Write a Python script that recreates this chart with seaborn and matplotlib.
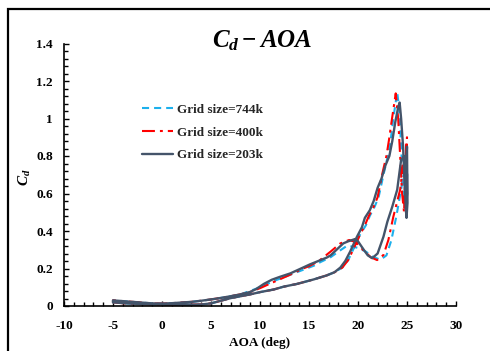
import matplotlib
matplotlib.use("Agg")
import matplotlib.pyplot as plt
from matplotlib.patches import Rectangle
from matplotlib.ticker import MultipleLocator, FuncFormatter
import seaborn as sns
import pandas as pd

# Drag coefficient loops over one pitching cycle, in time order
aoa_203k = [-5, -4, -2, 0, 2, 4, 5, 6, 7, 8, 9, 10, 11.4, 12.4, 13.8, 15.5, 16.8, 17.6,
            18.2, 18.7, 19.2, 19.9, 20.4, 20.7, 21.2, 21.6, 22.0, 22.4, 22.8, 23.2, 23.5,
            23.8, 24.1, 24.25, 24.4, 24.6, 24.75, 24.9, 25.0, 24.95, 25.0, 25.05, 24.95,
            25.0, 24.8, 24.4, 24.0, 23.5, 23.0, 22.6, 22.0, 21.45, 21.0, 20.6, 20.0, 19.7,
            19.0, 18.5, 17.2, 16.8, 15.1, 13.1, 12.0, 11.2, 10.4, 9.6, 9.0, 8.0, 7.0, 6.0,
            5.0, 4.0, 3.0, 1.0, 0.0, -1.0, -2.0, -3.0, -4.0, -5.0, -5.0]
cd_203k = [0.02, 0.015, 0.01, 0.008, 0.007, 0.008, 0.014, 0.028, 0.042, 0.052, 0.062, 0.074,
           0.088, 0.103, 0.118, 0.142, 0.163, 0.18, 0.205, 0.24, 0.29, 0.37, 0.42, 0.47,
           0.51, 0.56, 0.63, 0.68, 0.75, 0.80, 0.88, 0.98, 1.06, 1.085, 1.0, 0.85, 0.65,
           0.5, 0.6, 0.8, 0.85, 0.55, 0.47, 0.7, 0.8, 0.78, 0.62, 0.53, 0.45, 0.37, 0.28,
           0.255, 0.27, 0.299, 0.345, 0.357, 0.345, 0.334, 0.27, 0.258, 0.222, 0.174,
           0.155, 0.14, 0.118, 0.09, 0.075, 0.062, 0.052, 0.043, 0.035, 0.028, 0.022,
           0.015, 0.013, 0.014, 0.018, 0.022, 0.026, 0.03, 0.02]

aoa_400k = [-5, -4, -2, 0, 2, 4, 5, 6, 7, 8, 9, 10, 11.4, 12.4, 13.8, 15.5, 16.8, 17.6,
            18.4, 19.0, 19.5, 20.2, 20.7, 21.1, 21.6, 22.0, 22.5, 22.9, 23.16, 23.5,
            23.85, 24.1, 24.3, 24.5, 24.7, 24.9, 25.0, 24.95, 25.0, 24.6, 24.3, 23.6, 23.1,
            22.6, 21.95, 21.3, 20.5, 19.8, 19.1, 18.2, 17.2, 16.0, 15.0, 14.4, 13.0, 11.1,
            10.0, 9.0, 8.0, 7.0, 6.0, 5.0, 4.0, 3.0, 1.0, 0.0, -1.0, -2.0, -3.0, -4.0,
            -5.0, -5.0]
cd_400k = [0.02, 0.015, 0.01, 0.008, 0.007, 0.008, 0.014, 0.028, 0.042, 0.052, 0.062, 0.074,
           0.088, 0.103, 0.118, 0.142, 0.163, 0.18, 0.205, 0.245, 0.3, 0.38, 0.43, 0.48,
           0.53, 0.58, 0.71, 0.80, 0.885, 1.01, 1.134, 1.0, 0.8, 0.6, 0.5, 0.85, 0.9,
           0.6, 0.75, 0.75, 0.62, 0.475, 0.352, 0.272, 0.245, 0.26, 0.3, 0.34, 0.352,
           0.334, 0.29, 0.24, 0.212, 0.2, 0.165, 0.121, 0.095, 0.075, 0.062, 0.052, 0.043,
           0.035, 0.028, 0.022, 0.015, 0.013, 0.014, 0.018, 0.022, 0.026, 0.03, 0.02]

aoa_744k = [-5, -4, -2, 0, 2, 4, 5, 6, 7, 8, 9, 10, 11.4, 12.4, 13.8, 15.5, 16.8, 17.6,
            18.4, 19.0, 19.5, 20.2, 20.8, 21.2, 21.7, 22.1, 22.6, 23.0, 23.3, 23.6,
            24.0, 24.2, 24.4, 24.6, 24.8, 25.0, 24.9, 25.0, 24.8, 24.4, 23.9, 23.4, 22.9,
            22.3, 21.6, 20.8, 20.0, 19.3, 18.9, 18.0, 17.2, 16.2, 15.5, 14.5, 13.0, 11.5,
            10.4, 9.5, 8.0, 7.0, 6.0, 5.0, 4.0, 3.0, 1.0, 0.0, -1.0, -2.0, -3.0, -4.0,
            -5.0, -5.0]
cd_744k = [0.02, 0.015, 0.01, 0.008, 0.007, 0.008, 0.014, 0.028, 0.042, 0.052, 0.062, 0.074,
           0.088, 0.103, 0.118, 0.142, 0.163, 0.18, 0.205, 0.245, 0.3, 0.38, 0.43, 0.48,
           0.53, 0.58, 0.70, 0.79, 0.87, 1.0, 1.14, 1.05, 0.85, 0.62, 0.52, 0.8, 0.62,
           0.78, 0.75, 0.62, 0.475, 0.35, 0.27, 0.247, 0.26, 0.29, 0.31, 0.318, 0.322,
           0.29, 0.26, 0.235, 0.215, 0.195, 0.165, 0.135, 0.11, 0.09, 0.062, 0.052, 0.043,
           0.035, 0.028, 0.022, 0.015, 0.013, 0.014, 0.018, 0.022, 0.026, 0.03, 0.02]

labels = ["Grid size=744k", "Grid size=400k", "Grid size=203k"]
x_ticks = [-10, -5, 0, 5, 10, 15, 20, 25, 30]
y_ticks = [0, 0.2, 0.4, 0.6, 0.8, 1.0, 1.2, 1.4]

sns.set_theme(style="ticks")
plt.rcParams["font.family"] = ["Liberation Serif", "DejaVu Serif"]
plt.rcParams["font.weight"] = "bold"
plt.rcParams["axes.unicode_minus"] = False
plt.rcParams["mathtext.fontset"] = "custom"
plt.rcParams["mathtext.it"] = "Liberation Serif:italic:bold"
plt.rcParams["mathtext.rm"] = "Liberation Serif:bold"
plt.rcParams["mathtext.bf"] = "Liberation Serif:bold"

fig = plt.figure(figsize=(4.9, 3.51), dpi=100)
fig.patch.set_facecolor("white")
ax = fig.add_axes([64 / 490, 1 - 306 / 351, 392 / 490, 262.5 / 351])
ax.set_facecolor("white")

series = [
    (aoa_744k, cd_744k, labels[0], "#1CB0EC", (0, (3.4, 2.4)), 1.5),
    (aoa_400k, cd_400k, labels[1], "#FF0000", (0, (6.2, 2.4, 1.4, 2.4)), 1.5),
    (aoa_203k, cd_203k, labels[2], "#44546A", "-", 1.7),
]
for xs, ys, lab, col, ls, lw in series:
    df = pd.DataFrame({"AOA": xs, "Cd": ys})
    sns.lineplot(data=df, x="AOA", y="Cd", sort=False, estimator=None, ax=ax,
                 color=col, linestyle=ls, linewidth=lw, label=lab)

ax.set_xlim(-10, 30)
ax.set_ylim(0, 1.4)
ax.set_xticks(x_ticks)
ax.set_yticks(y_ticks)
ax.xaxis.set_minor_locator(MultipleLocator(1))
ax.yaxis.set_minor_locator(MultipleLocator(0.04))
ax.yaxis.set_major_formatter(FuncFormatter(lambda v, p: f"{v:g}"))
ax.xaxis.set_major_formatter(FuncFormatter(lambda v, p: f"{v:g}"))
ax.tick_params(axis="both", which="both", direction="in", color="black", width=1,
               labelsize=9.5, labelcolor="black")
ax.tick_params(axis="both", which="major", length=3.5)
ax.tick_params(axis="both", which="minor", length=3)
ax.tick_params(axis="x", which="major", pad=10)
ax.tick_params(axis="y", which="major", pad=8)
for lab in ax.get_xticklabels() + ax.get_yticklabels():
    lab.set_fontweight("bold")

for side in ["top", "right"]:
    ax.spines[side].set_visible(False)
for side in ["left", "bottom"]:
    ax.spines[side].set_color("black")
    ax.spines[side].set_linewidth(1.2)

ax.set_xlabel("AOA (deg)", fontsize=9.5, fontweight="bold", color="black", labelpad=4)
ax.set_ylabel(r"$C_d$", fontsize=11, color="black")
ax.yaxis.set_label_coords(-0.08, 0.49)

leg = ax.legend(loc="upper left", bbox_to_anchor=(0.199, 0.771), frameon=False,
                borderpad=0, borderaxespad=0, handlelength=2.35, handletextpad=0.3,
                labelspacing=0.8, prop={"family": "Liberation Serif", "weight": "bold",
                                        "size": 9.5})

fig.text(262 / 490, 1 - 47 / 351, r"$C_d - AOA$", fontsize=18, ha="center",
         va="baseline", color="black")

# outer frame around the figure
fig.patches.append(Rectangle((8 / 490, -0.2), 1.2, 1.2 - 9 / 351, transform=fig.transFigure,
                             fill=False, edgecolor="black", linewidth=1.6, zorder=10))

fig.savefig("out.png", dpi=100, facecolor="white")
